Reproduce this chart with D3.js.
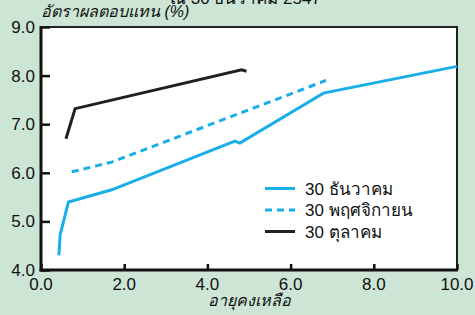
<!DOCTYPE html>
<html>
<head>
<meta charset="utf-8">
<script src="https://cdn.jsdelivr.net/npm/d3@7"></script>
<style>
  html, body { margin: 0; padding: 0; background: #cce5d4; }
  svg { display: block; font-family: "Liberation Sans", Arial, sans-serif; }
</style>
</head>
<body>
<div id="chart-container"></div>
<script>
// data
var decX = [0.43, 0.46, 0.66, 1.7, 4.66, 4.78, 6.79, 10.0];
var decY = [4.30, 4.72, 5.40, 5.65, 6.65, 6.61, 7.64, 8.19];
var novX = [0.74, 1.7, 6.85];
var novY = [6.02, 6.22, 7.90];
var octX = [0.60, 0.82, 4.82, 4.94];
var octY = [6.70, 7.32, 8.12, 8.09];

var xTicks = [0, 2, 4, 6, 8, 10];
var yTicks = [4, 5, 6, 7, 8, 9];
var seriesNames = ["30 ธันวาคม", "30 พฤศจิกายน", "30 ตุลาคม"];

var chartOptions = {
	width: 475,
	height: 315,
	left: 41,
	right: 457,
	top: 27,
	bottom: 270,
	blue: "#19aee8",
	black: "#231f20"
}

function toPoints(xs, ys) {
	return xs.map(function(x, i) { return [x, ys[i]]; });
}

var series = [
	{ name: seriesNames[0], points: toPoints(decX, decY), color: chartOptions.blue, dash: null },
	{ name: seriesNames[1], points: toPoints(novX, novY), color: chartOptions.blue, dash: "7,5" },
	{ name: seriesNames[2], points: toPoints(octX, octY), color: chartOptions.black, dash: null }
];

var svg = d3.select("#chart-container")
	.append("svg")
	.attr("width", chartOptions.width)
	.attr("height", chartOptions.height);

var x = d3.scaleLinear().domain([0, 10]).range([chartOptions.left, chartOptions.right]);
var y = d3.scaleLinear().domain([4, 9]).range([chartOptions.bottom, chartOptions.top]);

// plot background
svg.append("rect")
	.attr("x", chartOptions.left)
	.attr("y", chartOptions.top)
	.attr("width", chartOptions.right - chartOptions.left)
	.attr("height", chartOptions.bottom - chartOptions.top)
	.attr("fill", "#fff")
	.attr("stroke", "#222")
	.attr("stroke-width", 2);

// series lines
var line = d3.line()
	.x(function(d) { return x(d[0]); })
	.y(function(d) { return y(d[1]); });

svg.selectAll("path.series")
	.data(series)
	.enter()
	.append("path")
	.attr("class", "series")
	.attr("d", function(d) { return line(d.points); })
	.attr("fill", "none")
	.attr("stroke", function(d) { return d.color; })
	.attr("stroke-width", 3)
	.attr("stroke-dasharray", function(d) { return d.dash; })
	.attr("stroke-linejoin", "miter");

// axes, ticks pointing inwards
var yAxis = svg.append("g")
	.attr("transform", "translate(" + chartOptions.left + ",0)")
	.call(d3.axisRight(y).tickValues(yTicks).tickSize(9).tickFormat(""));
var xAxis = svg.append("g")
	.attr("transform", "translate(0," + chartOptions.bottom + ")")
	.call(d3.axisTop(x).tickValues(xTicks).tickSize(6).tickFormat(""));

[yAxis, xAxis].forEach(function(a) {
	a.select(".domain").remove();
	a.selectAll(".tick line").attr("stroke", "#111").attr("stroke-width", 2.5);
});

svg.append("line")
	.attr("x1", chartOptions.left).attr("x2", chartOptions.left)
	.attr("y1", chartOptions.top - 1).attr("y2", chartOptions.bottom + 1.5)
	.attr("stroke", "#111").attr("stroke-width", 3);
svg.append("line")
	.attr("x1", chartOptions.left - 1.5).attr("x2", chartOptions.right + 1)
	.attr("y1", chartOptions.bottom).attr("y2", chartOptions.bottom)
	.attr("stroke", "#111").attr("stroke-width", 3);

// tick labels
svg.selectAll("text.ylab")
	.data(yTicks)
	.enter()
	.append("text")
	.attr("class", "ylab")
	.attr("x", 35)
	.attr("y", function(d) { return y(d) + 6; })
	.attr("text-anchor", "end")
	.attr("font-size", 17)
	.attr("fill", "#111")
	.text(function(d) { return d.toFixed(1); });

svg.selectAll("text.xlab")
	.data(xTicks)
	.enter()
	.append("text")
	.attr("class", "xlab")
	.attr("x", function(d) { return x(d); })
	.attr("y", 290)
	.attr("text-anchor", "middle")
	.attr("font-size", 17)
	.attr("fill", "#111")
	.text(function(d) { return d.toFixed(1); });

// axis titles
svg.append("text")
	.attr("x", 41)
	.attr("y", 17)
	.attr("font-size", 16)
	.attr("font-style", "italic")
	.attr("fill", "#111")
	.text("อัตราผลตอบแทน (%)");

svg.append("text")
	.attr("x", 249)
	.attr("y", 306)
	.attr("text-anchor", "middle")
	.attr("font-size", 16)
	.attr("font-style", "italic")
	.attr("fill", "#111")
	.text("อายุคงเหลือ");

// title, cut off at the top
svg.append("text")
	.attr("x", 170)
	.attr("y", 4)
	.attr("font-size", 17)
	.attr("fill", "#111")
	.text("ณ 30 ธันวาคม 2547");

// legend
var legend = svg.selectAll("g.legend")
	.data(series)
	.enter()
	.append("g")
	.attr("class", "legend")
	.attr("transform", function(d, i) { return "translate(265," + (188.5 + i * 21.5) + ")"; });

legend.append("line")
	.attr("x1", 0).attr("x2", 30)
	.attr("stroke", function(d) { return d.color; })
	.attr("stroke-width", 3)
	.attr("stroke-dasharray", function(d) { return d.dash; });

legend.append("text")
	.attr("x", 40)
	.attr("y", 6)
	.attr("font-size", 17)
	.attr("fill", "#111")
	.text(function(d) { return d.name; });
</script>
</body>
</html>
